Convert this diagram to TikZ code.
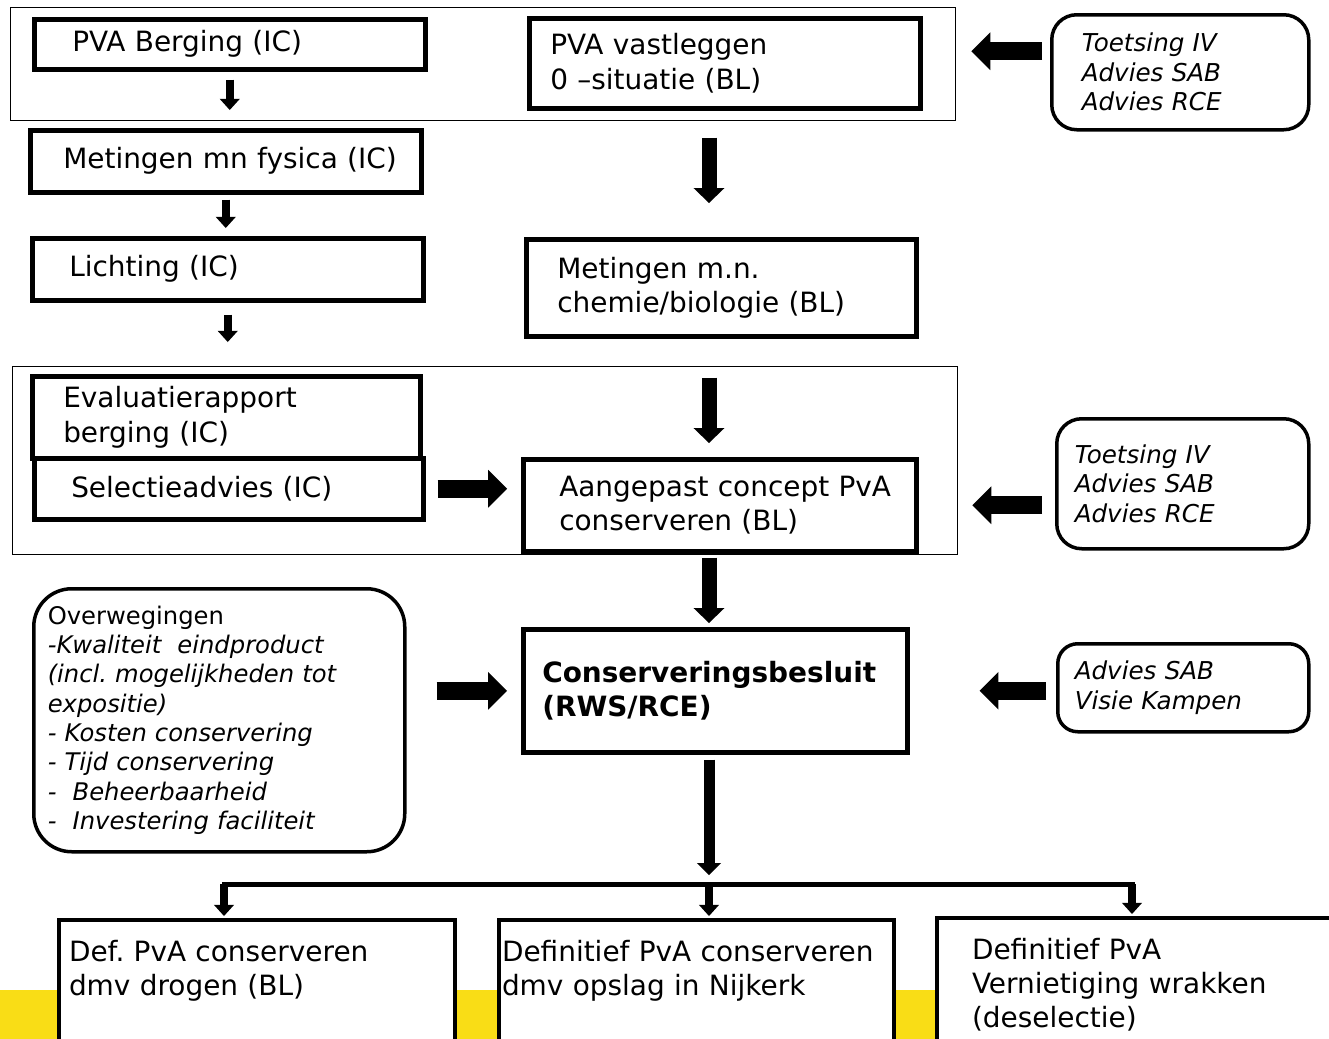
\documentclass[tikz,border=0pt]{standalone}
\usepackage{fontspec}
\setmainfont{DejaVu Sans}
\usetikzlibrary{arrows.meta}
\frenchspacing

\definecolor{rwsgeel}{RGB}{249,221,22}
\newdimen\pxl
\pxl=0.2mm
\newcommand{\hoofdtekst}{\fontsize{15.9pt}{19.4pt}\selectfont}
\newcommand{\zijtekst}{\fontsize{14pt}{16.8pt}\selectfont\itshape}
\newcommand{\overwtekst}{\fontsize{13.8pt}{16.7pt}\selectfont}

\tikzset{
  blok/.style={draw, line width=4.5\pxl, anchor=north west, align=left, inner ysep=2\pxl, fill=white, font=\hoofdtekst},
  rond/.style={blok, line width=3.5\pxl, font=\zijtekst},
  eind/.style={blok, line width=4\pxl, inner ysep=20\pxl, text depth=140\pxl},
  kader/.style={draw, line width=1.3\pxl, anchor=north west, inner sep=0pt},
  pijlS/.style={line width=8\pxl, -{Triangle[width=11.4pt, length=6.3pt, line width=0pt]}},
  pijlM/.style={line width=11\pxl, -{Triangle[width=13.7pt, length=6.8pt, line width=0pt]}},
  pijlL/.style={line width=15\pxl, -{Triangle[width=17.6pt, length=8.5pt, line width=0pt]}},
  pijlH/.style={line width=18\pxl, -{Triangle[width=21.6pt, length=10.8pt, line width=0pt]}},
  balk/.style={line width=5\pxl, line cap=rect}
}

\begin{document}
\begin{tikzpicture}[x=0.2mm, y=-0.2mm]
        \clip (0,0) rectangle (1329,1039);
        \fill[rwsgeel] (0,990) rectangle (1329,1039);

        % kaders
        \node[kader, minimum width=945\pxl, minimum height=113\pxl] at (10,7)   (kader1) {};
        \node[kader, minimum width=945\pxl, minimum height=188\pxl] at (12,366) (kader2) {};

        % linker kolom (IC)
        \node[blok, text width=315\pxl, inner xsep=38\pxl, minimum height=50\pxl] at (32,17)  (berg)  {PVA Berging (IC)};
        \node[blok, text width=325\pxl, inner xsep=33\pxl, minimum height=62\pxl] at (28,128) (fys)   {\mbox{Metingen mn fysica (IC)}};
        \node[blok, text width=317\pxl, inner xsep=37\pxl, minimum height=62\pxl] at (30,236) (licht) {Lichting (IC)};
        \node[blok, text width=326\pxl, inner xsep=31\pxl, minimum height=82\pxl] at (30,374) (eval)  {Evaluatierapport\\berging (IC)};
        \node[blok, text width=315\pxl, inner xsep=37\pxl, minimum height=61\pxl] at (32,456) (sel)   {Selectieadvies (IC)};

        % middelste kolom (BL)
        \node[blok, text width=349\pxl, inner xsep=21\pxl, minimum height=90\pxl]  at (527,16)  (vast) {PVA vastleggen\\0 –situatie (BL)};
        \node[blok, text width=328\pxl, inner xsep=31\pxl, minimum height=97\pxl]  at (524,237) (chem) {Metingen m.n.\\chemie/biologie (BL)};
        \node[blok, text width=321\pxl, inner xsep=36\pxl, minimum height=92\pxl]  at (521,457) (aanp) {\mbox{Aangepast concept PvA}\\conserveren (BL)};
        \node[blok, text width=346\pxl, inner xsep=19\pxl, minimum height=123\pxl,
              font=\fontsize{15.9pt}{19.4pt}\selectfont\bfseries] at (521,627) (besl) {Conserveringsbesluit\\(RWS/RCE)};

        % rechter kolom (advies)
        \node[rond, rounded corners=25\pxl, text width=197\pxl, inner xsep=30\pxl, minimum height=115\pxl] at (1050,13)  (toets1) {Toetsing IV\\Advies SAB\\Advies RCE};
        \node[rond, rounded corners=25\pxl, text width=216\pxl, inner xsep=18\pxl, minimum height=130\pxl] at (1055,417) (toets2) {Toetsing IV\\Advies SAB\\Advies RCE};
        \node[rond, rounded corners=20\pxl, text width=217\pxl, inner xsep=17\pxl, minimum height=88\pxl]  at (1056,642) (adv)    {Advies SAB\\Visie Kampen};

        \node[rond, rounded corners=38\pxl, text width=343\pxl, inner xsep=14\pxl, minimum height=263\pxl, font=\overwtekst] at (32,587) (overw)
             {Overwegingen\\\textit{-Kwaliteit\ \ eindproduct}\\\textit{(incl. mogelijkheden tot}\\\textit{expositie)}\\
              \textit{- Kosten conservering}\\\textit{- Tijd conservering}\\\textit{-\ \ Beheerbaarheid}\\\textit{-\ \ Investering faciliteit}};

        % eindproducten
        \node[eind, text width=376\pxl, inner xsep=10\pxl] at (57,918)  (def1) {Def. PvA conserveren\\dmv drogen (BL)};
        \node[eind, text width=389\pxl, inner xsep=3\pxl]  at (497,918) (def2) {Definitief PvA conserveren\\dmv opslag in Nijkerk};
        \node[eind, text width=350\pxl, inner xsep=35\pxl] at (935,916) (def3) {Definitief PvA\\Vernietiging wrakken\\(deselectie)};

        \coordinate (tak1) at (224,884);
        \coordinate (tak2) at (709,884);
        \coordinate (tak3) at (1132,884);

        \draw[pijlS, shorten <=8\pxl, shorten >=18\pxl] (berg.south) -- (berg.south |- fys.north);
        \draw[pijlS, shorten <=5\pxl, shorten >=8\pxl] (fys.south) -- (fys.south |- licht.north);
        \draw[pijlS, shorten <=12\pxl, shorten >=24\pxl] (licht.south) -- (licht.south |- kader2.north);

        \draw[pijlL, shorten <=27\pxl, shorten >=34\pxl] (vast.south -| tak2) -- (chem.north -| tak2);
        \draw[pijlL, shorten <=39\pxl, shorten >=14\pxl] (chem.south -| tak2) -- (aanp.north -| tak2);
        \draw[pijlL, shorten <=4\pxl, shorten >=4\pxl] (aanp.south -| tak2) -- (besl.north -| tak2);
        \draw[pijlM, shorten <=5\pxl, shorten >=9\pxl] (besl.south -| tak2) -- (tak2);

        \draw[pijlH, shorten <=8\pxl, shorten >=15\pxl] ([yshift=21\pxl]toets1.west) -- ([yshift=21\pxl]toets1.west -| kader1.east);
        \draw[pijlH, shorten <=13\pxl, shorten >=14\pxl] (toets2.west |- aanp.east) -- (kader2.east |- aanp.east);
        \draw[pijlH, shorten <=10\pxl, shorten >=70\pxl] (adv.west |- besl.east) -- (besl.east);
        \draw[pijlH, shorten <=12\pxl, shorten >=14\pxl] (sel.east) -- (sel.east -| aanp.west);
        \draw[pijlH, shorten <=30\pxl, shorten >=14\pxl] (overw.east |- besl.west) -- (besl.west);

        \draw[balk] (tak1) -- (tak3);
        \draw[pijlS, shorten >=2\pxl] (tak1) -- (tak1 |- def1.north);
        \draw[pijlS, shorten >=2\pxl] (tak2) -- (tak2 |- def2.north);
        \draw[pijlS, shorten >=2\pxl] (tak3) -- (tak3 |- def3.north);
    \end{tikzpicture}
\end{document}
